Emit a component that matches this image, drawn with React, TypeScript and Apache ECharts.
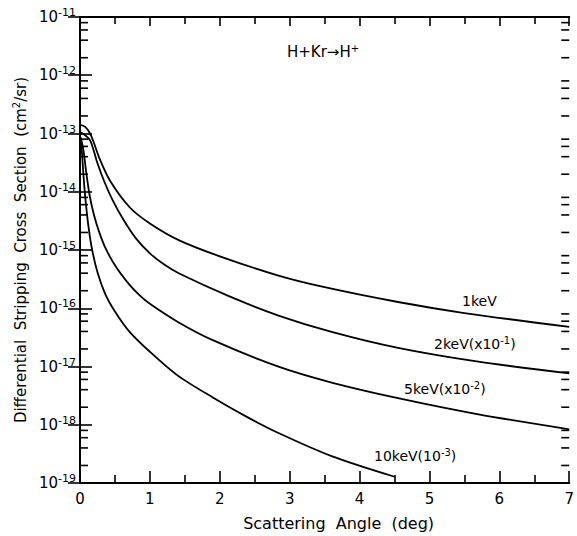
import React, { useEffect, useRef } from "react";
import * as echarts from "echarts";

// ---- data (angle in deg, cross section in cm^2/sr) ----
const X_1KEV = [0, 0.07, 0.14, 0.2, 0.28, 0.43, 0.71, 1.0, 1.42, 2.0, 2.84, 3.5, 4.55, 5.5, 7];
const Y_1KEV = [1.41e-13, 1.31e-13, 1.02e-13, 6.86e-14, 3.7e-14, 1.54e-14, 5.42e-15, 2.85e-15, 1.46e-15, 7.78e-16, 3.64e-16, 2.3e-16, 1.28e-16, 8.28e-17, 4.78e-17];

const X_2KEV = [0, 0.07, 0.15, 0.25, 0.35, 0.47, 0.62, 0.8, 1.0, 1.2, 1.42, 2.13, 2.84, 3.6, 4.55, 5.7, 7];
const Y_2KEV = [1.06e-13, 9.4e-14, 7.41e-14, 3.08e-14, 1.47e-14, 7.02e-15, 3.33e-15, 1.58e-15, 8.75e-16, 5.67e-16, 3.94e-16, 1.61e-16, 7.5e-17, 3.93e-17, 2.09e-17, 1.21e-17, 7.62e-18];

const X_5KEV = [0, 0.02, 0.05, 0.09, 0.14, 0.2, 0.27, 0.36, 0.5, 0.7, 0.85, 1.0, 1.4, 1.9, 2.84, 3.6, 4.55, 5.7, 7];
const Y_5KEV = [9.04e-14, 7.7e-14, 5.08e-14, 2.11e-14, 8.37e-15, 3.99e-15, 2.11e-15, 1.11e-15, 5.46e-16, 2.59e-16, 1.68e-16, 1.19e-16, 5.82e-17, 2.83e-17, 9.93e-18, 5.3e-18, 2.86e-18, 1.51e-18, 8.36e-19];

const X_10KEV = [0, 0.025, 0.05, 0.08, 0.12, 0.17, 0.25, 0.36, 0.5, 0.7, 1.0, 1.4, 1.9, 2.4, 2.84, 3.6, 4.5];
const Y_10KEV = [8.36e-14, 5.1e-14, 1.88e-14, 7.02e-15, 2.59e-15, 1.06e-15, 4.15e-16, 1.77e-16, 8.79e-17, 4.06e-17, 1.79e-17, 6.97e-18, 2.94e-18, 1.34e-18, 7.21e-19, 2.89e-19, 1.28e-19];

const X_MIN = 0;
const X_MAX = 7;
const Y_MIN_EXP = -19;
const Y_MAX_EXP = -11;
const MINOR_MANTISSAS = [2, 4, 6, 8];

const CURVE_LABELS = ["1keV", "2keV(x10{s|-1})", "5keV(x10{s|-2})", "10keV(10{s|-3})"];
const REACTION = "H+Kr\u2192H{s|+}";
const X_TITLE = "Scattering  Angle  (deg)";
const Y_TITLE = "Differential  Stripping  Cross  Section  (cm{s|2}/sr)";

const FONT = "DejaVu Sans";

function pairs(xs: number[], ys: number[]) {
  return xs.map((x, i) => [x, ys[i]]);
}

export default function App() {
  const ref = useRef<HTMLDivElement>(null);

  useEffect(() => {
    if (!ref.current) return;
    const chart = echarts.init(ref.current, undefined, { renderer: "svg" });

    const minorTicks: number[][] = [];
    for (let e = Y_MIN_EXP; e < Y_MAX_EXP; e++) {
      MINOR_MANTISSAS.forEach((m) => minorTicks.push([X_MIN, m * Math.pow(10, e)]));
    }

    const supRich = {
      b: { fontSize: 15, fontFamily: FONT, color: "#000" },
      s: { fontSize: 11, fontFamily: FONT, color: "#000", padding: [0, 0, 9, 0] },
    };
    const sup = { s: { fontSize: 10, fontFamily: FONT, color: "#000", padding: [0, 0, 8, 0] } };

    const lineSeries = (name: string, xs: number[], ys: number[]) => ({
      name,
      type: "line",
      data: pairs(xs, ys),
      showSymbol: false,
      smooth: 0.3,
      lineStyle: { color: "#000", width: 1.8 },
      itemStyle: { color: "#000" },
      xAxisIndex: 0,
      yAxisIndex: 0,
      silent: true,
    });

    const tickStyle = { color: "#000", width: 1.6 };

    const curveLabel = (text: string, left: number, top: number) => ({
      type: "text",
      left,
      top,
      style: { text, fontSize: 14, fontFamily: FONT, fill: "#000", rich: sup },
    });

    chart.setOption({
      animation: false,
      backgroundColor: "#fff",
      grid: { left: 80, right: 4, top: 17, bottom: 49, containLabel: false },
      xAxis: [
        {
          type: "value",
          min: X_MIN,
          max: X_MAX,
          interval: 1,
          position: "bottom",
          axisLine: { show: true, lineStyle: { color: "#000", width: 2 } },
          axisTick: { show: true, inside: true, length: 12, lineStyle: tickStyle },
          minorTick: { show: true, splitNumber: 2, length: 8, lineStyle: tickStyle },
          splitLine: { show: false },
          axisLabel: { color: "#000", fontSize: 15, fontFamily: FONT, margin: 8 },
          name: X_TITLE,
          nameLocation: "middle",
          nameGap: 32,
          nameTextStyle: { color: "#000", fontSize: 16, fontFamily: FONT, padding: [0, 0, 0, 28] },
        },
        {
          type: "value",
          min: X_MIN,
          max: X_MAX,
          interval: 1,
          position: "top",
          axisLine: { show: true, lineStyle: { color: "#000", width: 2 } },
          axisTick: { show: true, inside: true, length: 9, lineStyle: tickStyle },
          minorTick: { show: true, splitNumber: 2, length: 7, lineStyle: tickStyle },
          splitLine: { show: false },
          axisLabel: { show: false },
        },
      ],
      yAxis: [
        {
          type: "log",
          logBase: 10,
          min: Math.pow(10, Y_MIN_EXP),
          max: Math.pow(10, Y_MAX_EXP),
          interval: 1,
          position: "left",
          axisLine: { show: true, lineStyle: { color: "#000", width: 2 } },
          axisTick: { show: true, inside: true, length: 12, lineStyle: tickStyle },
          splitLine: { show: false },
          axisLabel: {
            margin: 4,
            formatter: (v: number) => `{b|10}{s|${Math.round(Math.log10(v))}}`,
            rich: supRich,
          },
          name: Y_TITLE,
          nameLocation: "middle",
          nameGap: 50,
          nameTextStyle: { color: "#000", fontSize: 15, fontFamily: FONT, rich: sup },
        },
        {
          type: "log",
          logBase: 10,
          min: Math.pow(10, Y_MIN_EXP),
          max: Math.pow(10, Y_MAX_EXP),
          interval: 1,
          position: "right",
          axisLine: { show: true, lineStyle: { color: "#000", width: 2 } },
          axisTick: { show: true, inside: true, length: 12, lineStyle: tickStyle },
          splitLine: { show: false },
          axisLabel: { show: false },
        },
      ],
      series: [
        lineSeries("1keV", X_1KEV, Y_1KEV),
        lineSeries("2keV", X_2KEV, Y_2KEV),
        lineSeries("5keV", X_5KEV, Y_5KEV),
        lineSeries("10keV", X_10KEV, Y_10KEV),
        {
          type: "custom",
          name: "minorTicks",
          xAxisIndex: 0,
          yAxisIndex: 0,
          silent: true,
          clip: false,
          data: minorTicks,
          encode: { x: 0, y: 1 },
          renderItem: (params: any, api: any) => {
            const v = api.value(1);
            const pl = api.coord([X_MIN, v]);
            const pr = api.coord([X_MAX, v]);
            return {
              type: "group",
              children: [
                {
                  type: "line",
                  shape: { x1: pl[0], y1: pl[1], x2: pl[0] + 8, y2: pl[1] },
                  style: { stroke: "#000", lineWidth: 1.6 },
                },
                {
                  type: "line",
                  shape: { x1: pr[0] - 8, y1: pr[1], x2: pr[0], y2: pr[1] },
                  style: { stroke: "#000", lineWidth: 1.6 },
                },
              ],
            };
          },
        },
      ],
      graphic: [
        {
          type: "text",
          left: 287,
          top: 43,
          style: { text: REACTION, fontSize: 15, fontFamily: FONT, fill: "#000", rich: sup },
        },
        curveLabel(CURVE_LABELS[0], 462, 294),
        curveLabel(CURVE_LABELS[1], 434, 335),
        curveLabel(CURVE_LABELS[2], 404, 380),
        curveLabel(CURVE_LABELS[3], 374, 447),
      ],
    });

    return () => chart.dispose();
  }, []);

  return (
    <div
      ref={ref}
      style={{ position: "fixed", left: 0, top: 0, width: 577, height: 536, background: "#fff" }}
    />
  );
}
